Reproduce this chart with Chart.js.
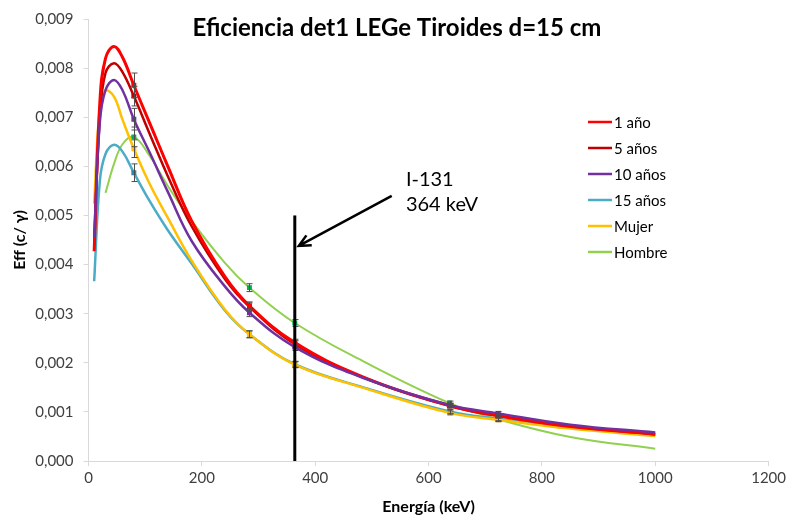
<!DOCTYPE html>
<html>
<head>
<meta charset="utf-8">
<script src="https://cdn.jsdelivr.net/npm/chart.js@4.4.1/dist/chart.umd.min.js"></script>
<style>
  html, body { margin: 0; padding: 0; background: #fff; }
  canvas { display: block; }
</style>
</head>
<body>
<canvas id="eff" width="789" height="520"></canvas>
<script>
// Energías (keV) de la curva y puntos medidos con barra de error
const energies = [10, 20, 30, 45, 60, 80, 108, 140, 182, 241, 284, 364, 485, 637, 723, 850, 1000];
const markerEnergies = [80, 284, 364, 637, 723];

// Eficiencia (c/γ) por maniquí
const effAnio1   = [0.00427, 0.00730, 0.00820, 0.00844, 0.00822, 0.00765, 0.00688, 0.00600, 0.00489, 0.00375, 0.00316, 0.00241, 0.00171, 0.00113, 0.00092, 0.00070, 0.00055];
const effAnios5  = [0.00440, 0.00700, 0.00790, 0.00810, 0.00792, 0.00743, 0.00666, 0.00580, 0.00478, 0.00370, 0.00314, 0.00238, 0.00170, 0.00112, 0.00092, 0.00071, 0.00054];
const effAnios10 = [0.00455, 0.00690, 0.00755, 0.00776, 0.00755, 0.00696, 0.00628, 0.00548, 0.00448, 0.00355, 0.00302, 0.00232, 0.00169, 0.00114, 0.00097, 0.00074, 0.00058];
const effAnios15 = [0.00366, 0.00570, 0.00625, 0.00644, 0.00630, 0.00587, 0.00529, 0.00470, 0.00402, 0.00306, 0.00258, 0.00197, 0.00150, 0.00101, 0.00086, 0.00068, 0.00053];
const effMujer   = [0.00524, 0.00720, 0.00754, 0.00742, 0.00695, 0.00636, 0.00564, 0.00495, 0.00408, 0.00308, 0.00258, 0.00196, 0.00149, 0.00098, 0.00084, 0.00066, 0.00051];
const effHombre  = [null, null, 0.00546, 0.00605, 0.00645, 0.00660, 0.00621, 0.00560, 0.00489, 0.00403, 0.00353, 0.00281, 0.00203, 0.00118, 0.00085, 0.00049, 0.00025];

// Incertidumbres en los puntos medidos
const errAnio1   = [0.00025, 0.00008, 0.00007, 0.00004, 0.00004];
const errAnios5  = [0.00020, 0.00008, 0.00007, 0.00004, 0.00004];
const errAnios10 = [0.00022, 0.00008, 0.00007, 0.00004, 0.00004];
const errAnios15 = [0.00018, 0.00007, 0.00006, 0.00004, 0.00004];
const errMujer   = [0.00018, 0.00007, 0.00006, 0.00004, 0.00004];
const errHombre  = [0.00020, 0.00008, 0.00007, 0.00004, 0.00004];

const yTicks = [0, 0.001, 0.002, 0.003, 0.004, 0.005, 0.006, 0.007, 0.008, 0.009];

// Línea I-131
const lineEnergy = 364;
const lineTop = 0.005;

const FONT = 'Lato, "Open Sans", sans-serif';

const series = [
  { label: '1 año',   values: effAnio1,   errors: errAnio1,   line: '#ff0000', mark: '#ff0000', width: 3,   order: 1 },
  { label: '5 años',  values: effAnios5,  errors: errAnios5,  line: '#c00000', mark: '#c00000', width: 2.5, order: 2 },
  { label: '10 años', values: effAnios10, errors: errAnios10, line: '#7030a0', mark: '#7030a0', width: 2.5, order: 0 },
  { label: '15 años', values: effAnios15, errors: errAnios15, line: '#4bacc6', mark: '#31859c', width: 2.5, order: 4 },
  { label: 'Mujer',   values: effMujer,   errors: errMujer,   line: '#ffc000', mark: '#ffc000', width: 2.5, order: 3 },
  { label: 'Hombre',  values: effHombre,  errors: errHombre,  line: '#92d050', mark: '#00b050', width: 2,   order: 5 }
];

const datasets = series.map((s) => ({
  label: s.label,
  data: energies.map((e, i) => ({ x: e, y: s.values[i] })).filter((p) => p.y !== null),
  errors: s.errors,
  order: s.order,
  showLine: true,
  borderColor: s.line,
  borderWidth: s.width,
  tension: 0.4,
  pointStyle: 'rect',
  pointRadius: (c) => (c.raw && markerEnergies.includes(c.raw.x) ? 3.5 : 0),
  pointHoverRadius: 0,
  pointBackgroundColor: s.mark,
  pointBorderWidth: 0
}));

const errorBars = {
  id: 'errorBars',
  afterDatasetsDraw(chart) {
    const { ctx, scales: { x, y } } = chart;
    ctx.save();
    ctx.strokeStyle = '#4d4d4d';
    ctx.lineWidth = 1;
    chart.data.datasets.forEach((ds) => {
      markerEnergies.forEach((e, i) => {
        const pt = ds.data.find((p) => p.x === e);
        if (!pt) return;
        const px = Math.round(x.getPixelForValue(e)) + 0.5;
        const top = y.getPixelForValue(pt.y + ds.errors[i]);
        const bot = y.getPixelForValue(pt.y - ds.errors[i]);
        ctx.beginPath();
        ctx.moveTo(px, top); ctx.lineTo(px, bot);
        ctx.moveTo(px - 3, top); ctx.lineTo(px + 3, top);
        ctx.moveTo(px - 3, bot); ctx.lineTo(px + 3, bot);
        ctx.stroke();
      });
    });
    ctx.restore();
  }
};

const extras = {
  id: 'extras',
  afterDraw(chart) {
    const { ctx, scales: { x, y } } = chart;
    ctx.save();

    // título dentro del área del gráfico
    ctx.fillStyle = '#000';
    ctx.font = 'bold 24px ' + FONT;
    ctx.textAlign = 'center';
    ctx.textBaseline = 'middle';
    ctx.fillText('Eficiencia det1 LEGe Tiroides d=15 cm', 397, 28);

    // línea vertical en 364 keV
    const lx = x.getPixelForValue(lineEnergy);
    ctx.strokeStyle = '#000';
    ctx.lineWidth = 3;
    ctx.beginPath();
    ctx.moveTo(lx, y.getPixelForValue(0));
    ctx.lineTo(lx, y.getPixelForValue(lineTop));
    ctx.stroke();

    // flecha
    const ax0 = x.getPixelForValue(535), ay0 = y.getPixelForValue(0.00540);
    const ax1 = x.getPixelForValue(371), ay1 = y.getPixelForValue(0.00438);
    ctx.lineWidth = 2.5;
    ctx.beginPath();
    ctx.moveTo(ax0, ay0);
    ctx.lineTo(ax1, ay1);
    const ang = Math.atan2(ay1 - ay0, ax1 - ax0);
    const head = 13;
    ctx.moveTo(ax1 - head * Math.cos(ang - 0.45), ay1 - head * Math.sin(ang - 0.45));
    ctx.lineTo(ax1, ay1);
    ctx.lineTo(ax1 - head * Math.cos(ang + 0.45), ay1 - head * Math.sin(ang + 0.45));
    ctx.stroke();

    ctx.font = '20px ' + FONT;
    ctx.textAlign = 'left';
    ctx.textBaseline = 'alphabetic';
    ctx.fillText('I-131', x.getPixelForValue(560), y.getPixelForValue(0.00560));
    ctx.fillText('364 keV', x.getPixelForValue(560), y.getPixelForValue(0.00509));

    // leyenda
    ctx.font = '15px ' + FONT;
    ctx.textBaseline = 'middle';
    chart.data.datasets.forEach((ds, i) => {
      const ly = 122 + i * 26;
      ctx.strokeStyle = ds.borderColor;
      ctx.lineWidth = 2.5;
      ctx.beginPath();
      ctx.moveTo(588, ly);
      ctx.lineTo(612, ly);
      ctx.stroke();
      ctx.fillStyle = '#000';
      ctx.fillText(ds.label, 614, ly + 1);
    });
    ctx.restore();
  }
};

const axisColor = '#d9d9d9';
const tickFont = { family: FONT, size: 15 };

new Chart(document.getElementById('eff'), {
  type: 'scatter',
  data: { datasets },
  plugins: [errorBars, extras],
  options: {
    responsive: false,
    animation: false,
    devicePixelRatio: 1,
    layout: { padding: { top: 17, right: 20, left: 0, bottom: 0 } },
    plugins: {
      legend: { display: false },
      tooltip: { enabled: false }
    },
    scales: {
      x: {
        type: 'linear',
        min: 0,
        max: 1200,
        afterFit: (s) => { s.height = 59; },
        ticks: {
          stepSize: 200,
          color: '#404040',
          font: tickFont,
          padding: 3,
          maxRotation: 0,
          callback: (v) => String(v)
        },
        grid: { drawOnChartArea: false, tickLength: 5, color: axisColor },
        border: { color: axisColor, width: 1 },
        title: {
          display: true,
          text: 'Energía (keV)',
          color: '#000',
          font: { family: FONT, size: 16, weight: 'bold' },
          padding: { top: 4, bottom: 4 }
        }
      },
      y: {
        min: 0,
        max: 0.009,
        afterFit: (s) => { s.width = 88.5; },
        afterBuildTicks: (s) => { s.ticks = yTicks.map((v) => ({ value: v })); },
        ticks: {
          color: '#404040',
          font: tickFont,
          padding: 10,
          callback: (v) => v.toFixed(3).replace('.', ',')
        },
        grid: { drawOnChartArea: false, tickLength: 5, color: axisColor },
        border: { color: axisColor, width: 1 },
        title: {
          display: true,
          text: 'Eff (c/ γ)',
          color: '#000',
          font: { family: FONT, size: 16, weight: 'bold' },
          padding: { top: 10, bottom: 4 }
        }
      }
    }
  }
});
</script>
</body>
</html>
